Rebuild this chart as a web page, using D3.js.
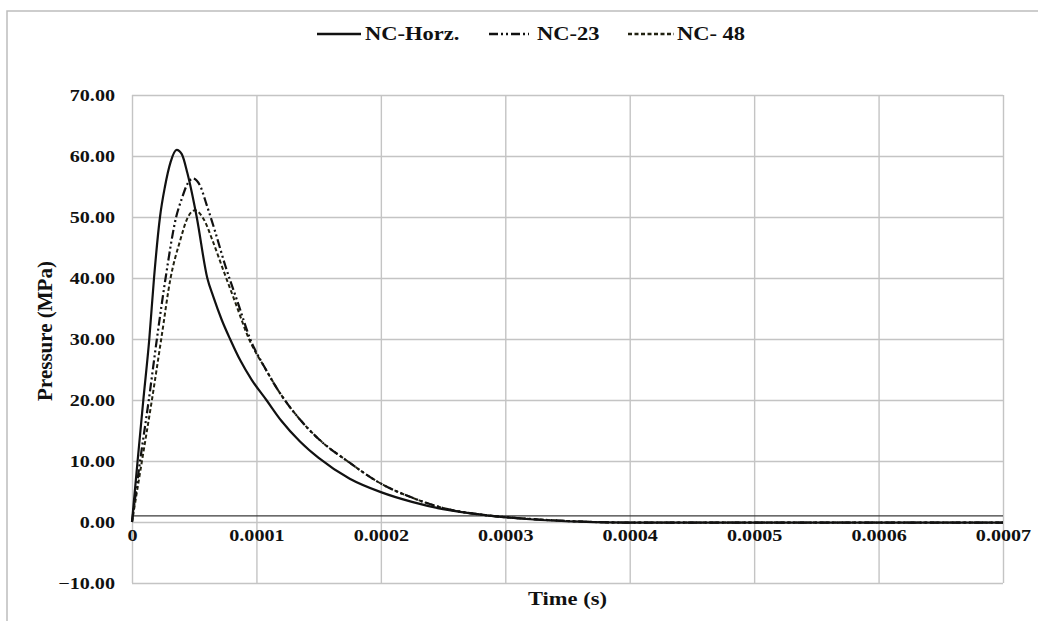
<!DOCTYPE html>
<html>
<head>
<meta charset="utf-8">
<script src="https://cdn.jsdelivr.net/npm/d3@7"></script>
<style>
  body { margin: 0; background: #fff; }
  svg { display: block; }
  text { font-family: "Liberation Serif", "Times New Roman", serif; fill: #111; }
</style>
</head>
<body>
<svg id="chart" width="1038" height="621"></svg>
<script>
// ---- data (time in seconds, pressure in MPa) ----
const timeHorz = [0, 0.45e-5, 0.91e-5, 1.39e-5, 1.77e-5, 2.25e-5, 2.65e-5, 3.1e-5, 3.59e-5, 4.0e-5, 4.45e-5,
  5.2e-5, 6.05e-5, 6.54e-5, 7.2e-5, 7.88e-5, 8.7e-5, 9.62e-5, 10.8e-5, 12.0e-5, 13.5e-5, 15.0e-5,
  17.5e-5, 20.0e-5, 22.5e-5, 25.0e-5, 28.5e-5, 32.0e-5, 36.0e-5, 40.0e-5, 50.0e-5, 60.0e-5, 70.0e-5];
const pressHorz = [0, 10, 20, 30, 40, 50, 55, 59, 61.0, 60.3, 57.2,
  50, 40, 36.9, 33.2, 30, 26.5, 23.3, 20, 16.6, 13.2, 10.5,
  7.1, 4.9, 3.3, 2.1, 1.1, 0.45, 0.05, -0.1, -0.1, -0.1, -0.1];

const time23 = [0, 0.65e-5, 1.35e-5, 2.0e-5, 2.7e-5, 3.55e-5, 4.0e-5, 4.45e-5, 4.9e-5, 5.5e-5, 6.0e-5,
  6.7e-5, 7.5e-5, 8.5e-5, 9.5e-5, 10.7e-5, 12.0e-5, 13.5e-5, 15.0e-5, 17.3e-5, 20.0e-5, 22.5e-5,
  25.0e-5, 28.5e-5, 32.0e-5, 36.0e-5, 40.0e-5, 50.0e-5, 60.0e-5, 70.0e-5];
const press23 = [0, 10, 20, 30, 40, 50, 53, 55.4, 56.3, 55, 52,
  47.5, 42, 36, 30, 25.2, 20.8, 16.8, 13.6, 10, 6.3, 4.0,
  2.3, 1.1, 0.5, 0.08, -0.1, -0.1, -0.1, -0.1];

const time48 = [0, 0.8e-5, 1.6e-5, 2.35e-5, 3.1e-5, 3.85e-5, 4.5e-5, 5.06e-5, 5.8e-5, 6.5e-5, 7.3e-5,
  8.3e-5, 9.4e-5, 10.7e-5, 12.0e-5, 13.5e-5, 15.0e-5, 17.3e-5, 20.0e-5, 22.5e-5,
  25.0e-5, 28.5e-5, 32.0e-5, 36.0e-5, 40.0e-5, 50.0e-5, 60.0e-5, 70.0e-5];
const press48 = [0, 10, 20, 30, 40, 46, 50, 51.1, 49.5, 46, 41.5,
  36, 30, 25.2, 20.8, 16.8, 13.6, 10, 6.3, 4.0,
  2.3, 1.1, 0.5, 0.08, -0.1, -0.1, -0.1, -0.1];

const refLevel = 1.0; // dark horizontal reference line just above zero

const seriesNames = ['NC-Horz.', 'NC-23', 'NC- 48'];
const xTicks = [0, 0.0001, 0.0002, 0.0003, 0.0004, 0.0005, 0.0006, 0.0007];
const xTickLabels = ['0', '0.0001', '0.0002', '0.0003', '0.0004', '0.0005', '0.0006', '0.0007'];
const yTicks = [-10, 0, 10, 20, 30, 40, 50, 60, 70];

// ---- layout ----
const width = 1038, height = 621;
const margin = { top: 95, right: 35, bottom: 38, left: 132 };
const innerWidth = width - margin.left - margin.right;
const innerHeight = height - margin.top - margin.bottom;
const stretch = 1.22; // labels in the picture are widened horizontally

// widen glyphs without transforms
function widen(sel, k) {
  sel.each(function () {
    const len = this.getComputedTextLength();
    d3.select(this)
      .attr('textLength', len * k)
      .attr('lengthAdjust', 'spacingAndGlyphs');
  });
}

const svg = d3.select('#chart');

svg.append('rect').attr('width', width).attr('height', height).attr('fill', '#fff');

// outer frame (top and left edges)
svg.append('path')
  .attr('d', `M7,${height} V11 H${width}`)
  .attr('fill', 'none')
  .attr('stroke', '#bdbdbd')
  .attr('stroke-width', 1.5);

const g = svg.append('g')
  .attr('transform', `translate(${margin.left},${margin.top})`);

const x = d3.scaleLinear().domain([0, 0.0007]).range([0, innerWidth]);
const y = d3.scaleLinear().domain([-10, 70]).range([innerHeight, 0]);

// grid
g.append('g')
  .attr('class', 'grid')
  .call(d3.axisLeft(y).tickValues(yTicks).tickSize(-innerWidth).tickFormat(''));
g.append('g')
  .attr('class', 'grid')
  .attr('transform', `translate(0,${innerHeight})`)
  .call(d3.axisBottom(x).tickValues(xTicks).tickSize(innerHeight).tickFormat(''))
  .selectAll('line').attr('y2', -innerHeight);
g.selectAll('.grid .domain').remove();
g.selectAll('.grid line')
  .attr('stroke', '#c4c4c4')
  .attr('stroke-width', 1.4);

// y axis labels
const yAxis = g.append('g')
  .call(d3.axisLeft(y).tickValues(yTicks).tickSize(0).tickPadding(17)
    .tickFormat(d3.format('.2f')));
yAxis.select('.domain').remove();
yAxis.selectAll('text')
  .style('font-size', '16.5px')
  .style('font-weight', 'bold')
  .style('font-family', '"Liberation Serif", serif')
  .attr('fill', '#111')
  .call(widen, stretch);

// x axis labels, sitting under the zero line
const xAxis = g.append('g')
  .attr('transform', `translate(0,${y(0)})`)
  .call(d3.axisBottom(x).tickValues(xTicks).tickSize(0).tickPadding(7)
    .tickFormat((d, i) => xTickLabels[i]));
xAxis.select('.domain').remove();
xAxis.selectAll('text')
  .style('font-size', '16.5px')
  .style('font-weight', 'bold')
  .style('font-family', '"Liberation Serif", serif')
  .attr('fill', '#111')
  .call(widen, stretch);

// reference line
g.append('line')
  .attr('x1', x(0)).attr('x2', x(0.0007))
  .attr('y1', y(refLevel)).attr('y2', y(refLevel))
  .attr('stroke', '#3a3a3a')
  .attr('stroke-width', 1.4);

// axis titles
g.append('text')
  .attr('x', innerWidth / 2)
  .attr('y', innerHeight + 22)
  .attr('text-anchor', 'middle')
  .style('font-size', '18px')
  .style('font-weight', 'bold')
  .text('Time (s)')
  .call(widen, 1.25);

svg.append('text')
  .attr('transform', 'translate(52,331) rotate(-90)')
  .attr('text-anchor', 'middle')
  .style('font-size', '21px')
  .style('font-weight', 'bold')
  .text('Pressure (MPa)');

// series
const series = [
  { name: seriesNames[0], t: timeHorz, p: pressHorz, dash: null, width: 2.2, color: '#111' },
  { name: seriesNames[1], t: time23, p: press23, dash: '9,3,2,3,2,3', width: 2.2, color: '#111' },
  { name: seriesNames[2], t: time48, p: press48, dash: '4,2.5', width: 2, color: '#222211' }
];

const line = d3.line()
  .x(d => x(d[0]))
  .y(d => y(d[1]))
  .curve(d3.curveMonotoneX);

g.append('g')
  .selectAll('path')
  .data(series.slice().reverse())
  .join('path')
  .attr('fill', 'none')
  .attr('stroke', d => d.color)
  .attr('stroke-width', d => d.width)
  .attr('stroke-dasharray', d => d.dash)
  .attr('stroke-linejoin', 'round')
  .attr('d', d => line(d.t.map((t, i) => [t, d.p[i]])));

// legend
const legendItems = [
  { lx: 317, lw: 44, tx: 365 },
  { lx: 489, lw: 40, tx: 537 },
  { lx: 628, lw: 46, tx: 677 }
];
const legend = svg.append('g').attr('class', 'legend');
series.forEach((s, i) => {
  const it = legendItems[i];
  legend.append('line')
    .attr('x1', it.lx).attr('x2', it.lx + it.lw)
    .attr('y1', 34).attr('y2', 34)
    .attr('stroke', s.color)
    .attr('stroke-width', 2.4)
    .attr('stroke-dasharray', s.dash);
  legend.append('text')
    .attr('x', it.tx)
    .attr('y', 40)
    .style('font-size', '18px')
    .style('font-weight', 'bold')
    .text(s.name)
    .call(widen, 1.25);
});
</script>
</body>
</html>
